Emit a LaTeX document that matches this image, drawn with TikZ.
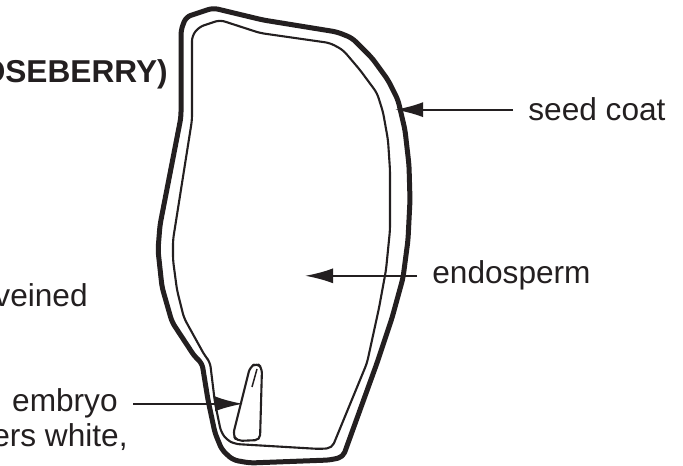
\documentclass[tikz,border=0pt]{standalone}
\usepackage{fontspec}
\setmainfont{Liberation Sans}
\usetikzlibrary{arrows.meta}
\definecolor{ink}{HTML}{231F20}

\tikzset{
  plain text/.style={font=\fontsize{18}{21}\selectfont, text=ink, inner sep=0pt},
  part/.style={plain text, inner xsep=3mm},
  pointer/.style={draw=ink, line width=0.42mm, -{Latex[length=5.6mm,width=3mm]}},
}

\begin{document}
\begin{tikzpicture}[x=0.2mm,y=-0.2mm,line join=round]
    \useasboundingbox (0,0) rectangle (683,466);
    \clip (0,0) rectangle (683,466);

    % running text cut by the left margin
    \node[plain text, font=\fontsize{18}{21}\selectfont\bfseries, anchor=base east] (title) at (168,83) {OSEBERRY)};
    \node[plain text, anchor=base east] (veined) at (88,307) {veined};
    \node[plain text, anchor=base east] (white) at (128,447) {ers white,};

    % seed coat
    \draw[ink, line width=1mm, rounded corners=1mm]
        (213,8) -- (263,20) -- (337,32) -- (352,38) -- (372,58) -- (388,80)
        -- (398,100) -- (405,130) -- (409,165) -- (410,200) -- (408,240)
        -- (403,278) -- (392,318) -- (377,363) -- (343,457) -- (330,460)
        -- (250,463) -- (233,460) -- (222,450) -- (215,433) -- (208,400)
        -- (202,363) -- (195,357) -- (172,322) -- (162,287) -- (158,250)
        -- (160,225) -- (181,117) -- (181,30) -- (186,17) -- cycle;
    % endosperm
    \draw[ink, line width=0.42mm, rounded corners=1mm]
        (220,20) -- (260,33) -- (330,43) -- (343,50) -- (360,70) -- (377,93)
        -- (383,112) -- (388,140) -- (390,170) -- (390,230) -- (386,270)
        -- (379,308) -- (367,363) -- (332,448) -- (320,449) -- (235,444)
        -- (227,440) -- (221,432) -- (215,403) -- (210,362) -- (205,356)
        -- (184,318) -- (177,290) -- (173,260) -- (173,240) -- (192,120)
        -- (192,36) -- (199,27) -- cycle;
    % embryo
    \draw[ink, line width=0.42mm, rounded corners=1mm]
        (250,367) -- (257,363) -- (262,368) -- (260,440) -- (237,441)
        -- (233,435) -- cycle;
    \draw[ink, line width=0.3mm] (257,369) -- (252,387);

    \coordinate (coatTip) at (395,110);
    \coordinate (endoTip) at (305,275);
    \coordinate (embryoTip) at (243,404);

    \node[part, anchor=base west] (coat) at (513,121) {seed coat};
    \node[part, anchor=base west] (endosperm) at (417,284) {endosperm};
    \node[part, anchor=base east] (embryo) at (133,412) {embryo};

    \draw[pointer] (coat.west) -- (coatTip |- coat.west);
    \draw[pointer] (endosperm.west) -- (endoTip |- endosperm.west);
    \draw[pointer] (embryo.east) -- (embryoTip |- embryo.east);
\end{tikzpicture}
\end{document}
